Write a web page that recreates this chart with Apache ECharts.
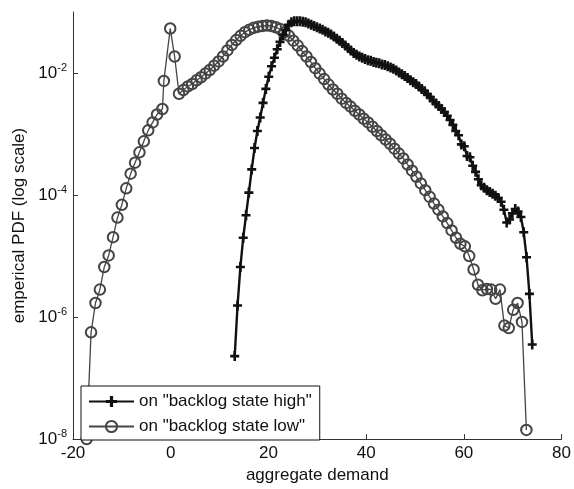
<!DOCTYPE html>
<html><head><meta charset="utf-8">
<script src="https://cdn.jsdelivr.net/npm/echarts@6/dist/echarts.min.js"></script>
<style>html,body{margin:0;padding:0;background:#fff}#c{width:574px;height:489px}</style>
</head><body><div id="c"></div>
<script>
// ---- data ----
const seriesNames = ['on "backlog state high"', 'on "backlog state low"'];
const xTicks = [-20, 0, 20, 40, 60, 80];
const yTickExponents = [-8, -6, -4, -2];

// "backlog state low" (circles): aggregate demand and log10 of PDF
const lowX = [
-17.2,-16.3,-15.4,-14.5,-13.6,-12.7,-11.8,-10.9,-10.0,-9.1,
-8.2,-7.3,-6.4,-5.5,-4.6,-3.7,-2.8,-1.7,-1.4,-0.1,
0.8,1.7,2.6,3.5,4.4,5.3,6.2,7.1,8.0,8.9,
9.8,10.7,11.6,12.5,13.4,14.3,15.2,16.1,17.0,17.9,
18.8,19.7,20.6,21.5,22.4,23.3,24.2,25.1,26.0,26.9,
27.8,28.7,29.6,30.5,31.4,32.3,33.2,34.1,35.0,35.9,
36.8,37.7,38.6,39.5,40.4,41.3,42.2,43.1,44.0,44.9,
45.8,46.7,47.6,48.5,49.4,50.3,51.2,52.1,53.0,53.9,
54.8,55.7,56.6,57.5,58.4,59.3,60.2,61.1,62.0,62.9,
63.8,64.7,65.6,66.5,67.4,68.3,69.2,70.1,71.0,71.9,
72.8];
const lowLog10 = [
-8.00,-6.25,-5.77,-5.55,-5.18,-4.99,-4.69,-4.37,-4.16,-3.89,
-3.65,-3.47,-3.30,-3.12,-2.94,-2.81,-2.68,-2.59,-2.13,-1.27,
-1.73,-2.34,-2.28,-2.22,-2.18,-2.12,-2.07,-2.01,-1.95,-1.88,
-1.81,-1.73,-1.63,-1.54,-1.46,-1.39,-1.33,-1.29,-1.26,-1.24,
-1.23,-1.22,-1.23,-1.25,-1.28,-1.33,-1.39,-1.47,-1.55,-1.64,
-1.73,-1.82,-1.92,-2.01,-2.10,-2.19,-2.27,-2.34,-2.42,-2.49,
-2.55,-2.62,-2.68,-2.75,-2.81,-2.88,-2.95,-3.02,-3.09,-3.16,
-3.24,-3.32,-3.40,-3.50,-3.60,-3.70,-3.81,-3.92,-4.03,-4.14,
-4.24,-4.35,-4.46,-4.58,-4.70,-4.80,-4.84,-5.00,-5.22,-5.47,
-5.56,-5.54,-5.55,-5.70,-5.55,-6.14,-6.18,-5.88,-5.77,-6.08,
-7.85];

// "backlog state high" (crosses)
const highX = [
13.10,13.68,14.26,14.84,15.42,16.00,16.58,17.16,17.74,18.32,
18.90,19.48,20.06,20.64,21.22,21.80,22.38,22.96,23.54,24.12,
24.70,25.28,25.86,26.44,27.02,27.60,28.18,28.76,29.34,29.92,
30.50,31.08,31.66,32.24,32.82,33.40,33.98,34.56,35.14,35.72,
36.30,36.88,37.46,38.04,38.62,39.20,39.78,40.36,40.94,41.52,
42.10,42.68,43.26,43.84,44.42,45.00,45.58,46.16,46.74,47.32,
47.90,48.48,49.06,49.64,50.22,50.80,51.38,51.96,52.54,53.12,
53.70,54.28,54.86,55.44,56.02,56.60,57.18,57.76,58.34,58.92,
59.50,60.08,60.66,61.24,61.82,62.40,62.98,63.56,64.14,64.72,
65.30,65.88,66.46,67.04,67.62,68.20,68.78,69.36,69.94,70.52,
71.10,71.68,72.26,72.84,73.42,74.00];
const highLog10 = [
-6.64,-5.81,-5.18,-4.70,-4.33,-3.96,-3.58,-3.23,-2.95,-2.73,
-2.49,-2.26,-2.06,-1.89,-1.75,-1.61,-1.49,-1.38,-1.29,-1.21,
-1.17,-1.15,-1.15,-1.15,-1.16,-1.17,-1.19,-1.21,-1.23,-1.25,
-1.27,-1.29,-1.32,-1.34,-1.37,-1.40,-1.44,-1.47,-1.51,-1.55,
-1.59,-1.63,-1.67,-1.70,-1.73,-1.75,-1.77,-1.79,-1.80,-1.82,
-1.83,-1.84,-1.86,-1.87,-1.89,-1.91,-1.93,-1.96,-1.99,-2.02,
-2.05,-2.08,-2.12,-2.15,-2.18,-2.22,-2.26,-2.30,-2.35,-2.40,
-2.45,-2.50,-2.54,-2.59,-2.64,-2.70,-2.77,-2.85,-2.95,-3.02,
-3.17,-3.20,-3.36,-3.38,-3.52,-3.62,-3.74,-3.84,-3.88,-3.92,
-3.95,-3.98,-4.01,-4.05,-4.11,-4.24,-4.45,-4.40,-4.30,-4.23,
-4.27,-4.36,-4.61,-5.02,-5.62,-6.45];

// ---- build ----
const FONT = '"Liberation Sans", Arial, Helvetica, sans-serif';
const toPairs = (xs, es) => xs.map((x, i) => [x, Math.pow(10, es[i])]);
const chart = echarts.init(document.getElementById('c'), null, {renderer: 'canvas'});
const plusPath = 'path://M0,3.7h9v2.6h-9z M3.2,0h2.6v10h-2.6z';
chart.setOption({
  animation: false,
  backgroundColor: '#fff',
  textStyle: {fontFamily: FONT},
  grid: {left: 73, right: 11, top: 12, bottom: 48},
  xAxis: {
    type: 'value', min: xTicks[0], max: xTicks[xTicks.length - 1], interval: 20,
    name: 'aggregate demand', nameLocation: 'middle', nameGap: 20,
    nameTextStyle: {fontSize: 17, color: '#111', fontFamily: FONT},
    axisLine: {onZero: false, lineStyle: {color: '#333', width: 1}},
    axisTick: {inside: true, length: 5, lineStyle: {color: '#333'}},
    axisLabel: {fontSize: 17, color: '#111', margin: 6, fontFamily: FONT},
    splitLine: {show: false}
  },
  yAxis: {
    type: 'log', logBase: 10, min: 1e-8, max: 1e-1,
    name: 'emperical PDF (log scale)', nameLocation: 'middle', nameGap: 40,
    nameTextStyle: {fontSize: 17, color: '#111', fontFamily: FONT},
    axisLine: {onZero: false, lineStyle: {color: '#333', width: 1}},
    axisTick: {inside: true, length: 5, lineStyle: {color: '#333'},
      customValues: yTickExponents.map(e => Math.pow(10, e))},
    axisLabel: {
      margin: 6, color: '#111', fontFamily: FONT,
      customValues: yTickExponents.map(e => Math.pow(10, e)),
      formatter: v => '{a|10}{b|' + Math.round(Math.log10(v)) + '}',
      rich: {
        a: {fontSize: 17, color: '#111', fontFamily: FONT, lineHeight: 22},
        b: {fontSize: 11, color: '#111', fontFamily: FONT, lineHeight: 11, verticalAlign: 'top'}
      }
    },
    splitLine: {show: false}
  },
  legend: {
    orient: 'vertical', left: 81, top: 386,
    backgroundColor: '#fff', borderColor: '#111', borderWidth: 1, borderRadius: 0,
    padding: [7, 8, 5, 7], itemWidth: 45, itemHeight: 14, itemGap: 8,
    textStyle: {fontSize: 17, color: '#111', fontFamily: FONT},
    data: seriesNames
  },
  series: [
    {
      name: seriesNames[1], type: 'line', data: toPairs(lowX, lowLog10),
      symbol: 'circle', symbolSize: 10.5, clip: false,
      lineStyle: {color: '#444', width: 1.3},
      itemStyle: {color: 'rgba(255,255,255,0)', borderColor: '#444', borderWidth: 2},
      z: 2
    },
    {
      name: seriesNames[0], type: 'line', data: toPairs(highX, highLog10),
      symbol: plusPath, symbolSize: [9, 10], clip: false,
      lineStyle: {color: '#111', width: 2.4},
      itemStyle: {color: '#111'},
      z: 3
    }
  ]
});
</script></body></html>
